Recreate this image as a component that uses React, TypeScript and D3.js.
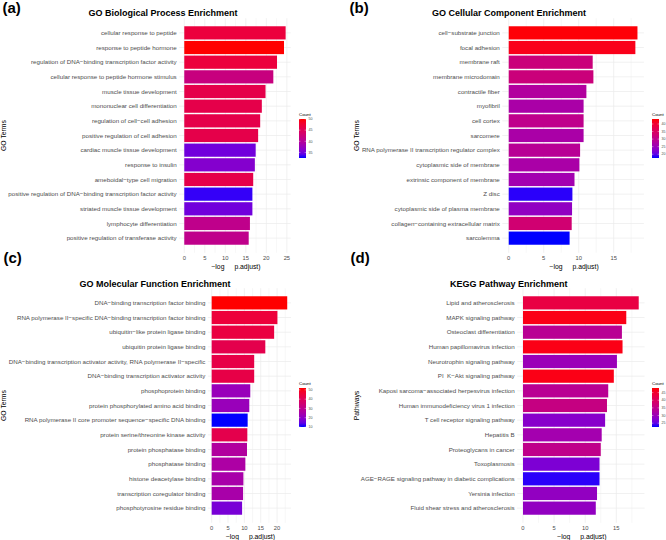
import React from "react";
import * as d3 from "d3";

const bpTerms = [
  "cellular response to peptide",
  "response to peptide hormone",
  "regulation of DNA−binding transcription factor activity",
  "cellular response to peptide hormone stimulus",
  "muscle tissue development",
  "mononuclear cell differentiation",
  "regulation of cell−cell adhesion",
  "positive regulation of cell adhesion",
  "cardiac muscle tissue development",
  "response to insulin",
  "ameboidal−type cell migration",
  "positive regulation of DNA−binding transcription factor activity",
  "striated muscle tissue development",
  "lymphocyte differentiation",
  "positive regulation of transferase activity",
];
const bpValues = [24.7, 24.3, 22.6, 21.7, 19.8, 18.9, 18.5, 18.0, 17.4, 17.2, 16.8, 16.6, 16.6, 16.0, 15.7];
const bpCounts = [47, 50, 47, 42, 46, 46, 46, 46, 35, 36, 46, 33, 35, 41, 41];

const ccTerms = [
  "cell−substrate junction",
  "focal adhesion",
  "membrane raft",
  "membrane microdomain",
  "contractile fiber",
  "myofibril",
  "cell cortex",
  "sarcomere",
  "RNA polymerase II transcription regulator complex",
  "cytoplasmic side of membrane",
  "extrinsic component of membrane",
  "Z disc",
  "cytoplasmic side of plasma membrane",
  "collagen−containing extracellular matrix",
  "sarcolemma",
];
const ccValues = [18.4, 18.1, 12.0, 12.1, 11.1, 10.7, 10.7, 10.7, 10.2, 10.1, 9.4, 9.1, 9.05, 9.0, 8.7];
const ccCounts = [43, 42, 32, 32, 28, 27, 30, 27, 29, 27, 26, 18, 24, 33, 17];

const mfTerms = [
  "DNA−binding transcription factor binding",
  "RNA polymerase II−specific DNA−binding transcription factor binding",
  "ubiquitin−like protein ligase binding",
  "ubiquitin protein ligase binding",
  "DNA−binding transcription activator activity, RNA polymerase II−specific",
  "DNA−binding transcription activator activity",
  "phosphoprotein binding",
  "protein phosphorylated amino acid binding",
  "RNA polymerase II core promoter sequence−specific DNA binding",
  "protein serine/threonine kinase activity",
  "protein phosphatase binding",
  "phosphatase binding",
  "histone deacetylase binding",
  "transcription coregulator binding",
  "phosphotyrosine residue binding",
];
const mfValues = [23.1, 20.1, 19.1, 16.4, 13.0, 13.0, 11.8, 11.5, 11.0, 10.9, 10.8, 10.3, 9.7, 9.6, 9.3];
const mfCounts = [52, 45, 44, 42, 43, 43, 22, 22, 10, 42, 27, 26, 25, 25, 17];

const keggTerms = [
  "Lipid and atherosclerosis",
  "MAPK signaling pathway",
  "Osteoclast differentiation",
  "Human papillomavirus infection",
  "Neurotrophin signaling pathway",
  "PI  K−Akt signaling pathway",
  "Kaposi sarcoma−associated herpesvirus infection",
  "Human immunodeficiency virus 1 infection",
  "T cell receptor signaling pathway",
  "Hepatitis B",
  "Proteoglycans in cancer",
  "Toxoplasmosis",
  "AGE−RAGE signaling pathway in diabetic complications",
  "Yersinia infection",
  "Fluid shear stress and atherosclerosis",
];
const keggValues = [18.6, 16.6, 15.9, 16.0, 15.1, 14.6, 13.7, 13.5, 13.2, 12.65, 12.5, 12.3, 12.3, 11.9, 11.7];
const keggCounts = [43, 47, 34, 47, 30, 47, 34, 36, 28, 31, 35, 27, 23, 29, 29];

const bpTicks = [0, 5, 10, 15, 20, 25];
const ccTicks = [0, 5, 10, 15];
const mfTicks = [0, 5, 10, 15, 20];
const keggTicks = [0, 5, 10, 15];

const bpLegend = [50, 45, 40, 35];
const ccLegend = [40, 35, 30, 25, 20];
const mfLegend = [50, 40, 30, 20, 10];
const keggLegend = [45, 40, 35, 30, 25];

const FONT = "'Liberation Sans', Arial, Helvetica, sans-serif";

type PanelProps = {
  id: string;
  letter: string;
  letterX: number;
  letterY: number;
  title: string;
  titleX: number;
  titleY: number;
  yTitle: string;
  yTitleX: number;
  terms: string[];
  values: number[];
  counts: number[];
  ticks: number[];
  legendTicks: number[];
  countDomain: [number, number];
  x0: number;
  x1: number;
  y0: number;
  y1: number;
  legendX: number;
  legendY: number;
};

function Panel(p: PanelProps) {
  const maxV = d3.max(p.values) as number;
  const x = d3.scaleLinear().domain([-0.05 * maxV, 1.05 * maxV]).range([p.x0, p.x1]);
  const y = d3.scaleBand<string>().domain(p.terms).range([p.y0, p.y1]).paddingInner(0.1).paddingOuter(0.55);
  const color = d3
    .scaleLinear<string>()
    .domain(p.countDomain)
    .range(["blue", "red"])
    .interpolate(d3.interpolateLab)
    .clamp(true);
  const minorTicks = p.ticks.map((t) => t + 2.5).concat([p.ticks[0] - 2.5]).filter((t) => x(t) >= p.x0 && x(t) <= p.x1);
  const barH = 39;
  const ly = d3.scaleLinear().domain(p.countDomain).range([p.legendY + barH, p.legendY]);
  const stops = d3.range(0, 1.0001, 0.1);
  const axisY = p.y1;
  return (
    <g>
      <defs>
        <linearGradient id={"grad-" + p.id} x1="0" y1="1" x2="0" y2="0">
          {stops.map((s) => (
            <stop key={s} offset={s} stopColor={color(p.countDomain[0] + s * (p.countDomain[1] - p.countDomain[0]))} />
          ))}
        </linearGradient>
      </defs>
      <text x={p.letterX} y={p.letterY} fontFamily={FONT} fontWeight="bold" fontSize={15} fill="#000">
        {p.letter}
      </text>
      <text x={p.titleX} y={p.titleY} fontFamily={FONT} fontWeight="bold" fontSize={9} textAnchor="middle" fill="#000">
        {p.title}
      </text>
      {minorTicks.map((t) => (
        <line key={"mi" + t} x1={x(t)} x2={x(t)} y1={p.y0} y2={p.y1} stroke="#EBEBEB" strokeWidth={0.4} />
      ))}
      {p.ticks.map((t) => (
        <line key={"ma" + t} x1={x(t)} x2={x(t)} y1={p.y0} y2={p.y1} stroke="#EBEBEB" strokeWidth={0.7} />
      ))}
      {p.terms.map((t) => (
        <line
          key={"hg" + t}
          x1={p.x0}
          x2={p.x1}
          y1={(y(t) as number) + y.bandwidth() / 2}
          y2={(y(t) as number) + y.bandwidth() / 2}
          stroke="#EBEBEB"
          strokeWidth={0.7}
        />
      ))}
      {p.terms.map((t, i) => (
        <rect
          key={"b" + t}
          x={x(0)}
          y={y(t) as number}
          width={x(p.values[i]) - x(0)}
          height={y.bandwidth()}
          fill={color(p.counts[i])}
        />
      ))}
      {p.terms.map((t) => (
        <text
          key={"l" + t}
          x={p.x0 - 2.5}
          y={(y(t) as number) + y.bandwidth() / 2}
          dy="0.35em"
          textAnchor="end"
          fontFamily={FONT}
          fontSize={6.2}
          fill="#4D4D4D"
          style={{ whiteSpace: "pre" }}
        >
          {t}
        </text>
      ))}
      {p.ticks.map((t) => (
        <text
          key={"t" + t}
          x={x(t)}
          y={axisY + 6.8}
          textAnchor="middle"
          fontFamily={FONT}
          fontSize={5.8}
          fill="#4D4D4D"
        >
          {t}
        </text>
      ))}
      <text
        x={(p.x0 + p.x1) / 2 + 1}
        y={axisY + 15.7}
        textAnchor="middle"
        fontFamily={FONT}
        fontSize={6.8}
        fill="#000"
      >
        <tspan>−log</tspan>
        <tspan dx={10}>p.adjust)</tspan>
      </text>
      <text
        transform={`translate(${p.yTitleX},${(p.y0 + p.y1) / 2}) rotate(-90)`}
        textAnchor="middle"
        fontFamily={FONT}
        fontSize={6.8}
        fill="#000"
      >
        {p.yTitle}
      </text>
      <text x={p.legendX} y={p.legendY - 3} fontFamily={FONT} fontSize={4.4} fill="#000">
        Count
      </text>
      <rect x={p.legendX} y={p.legendY} width={7} height={barH} fill={`url(#grad-${p.id})`} />
      {p.legendTicks.map((t) => (
        <g key={"lg" + t}>
          <line x1={p.legendX} x2={p.legendX + 1.4} y1={ly(t)} y2={ly(t)} stroke="#fff" strokeWidth={0.4} />
          <line x1={p.legendX + 5.6} x2={p.legendX + 7} y1={ly(t)} y2={ly(t)} stroke="#fff" strokeWidth={0.4} />
          <text x={p.legendX + 9.5} y={ly(t)} dy="0.35em" fontFamily={FONT} fontSize={3.6} fill="#4D4D4D">
            {t}
          </text>
        </g>
      ))}
    </g>
  );
}

export default function App() {
  return (
    <svg width={666} height={540} style={{ position: "absolute", left: 0, top: 0, background: "#fff" }}>
      <rect width={666} height={540} fill="#fff" />
      <Panel
        id="a"
        letter="(a)"
        letterX={2.5}
        letterY={12.5}
        title="GO Biological Process Enrichment"
        titleX={163}
        titleY={16}
        yTitle="GO Terms"
        yTitleX={6}
        terms={bpTerms}
        values={bpValues}
        counts={bpCounts}
        ticks={bpTicks}
        legendTicks={bpLegend}
        countDomain={[32.5, 50]}
        x0={179.2}
        x1={290.7}
        y0={18.2}
        y1={252.8}
        legendX={299}
        legendY={119}
      />
      <Panel
        id="b"
        letter="(b)"
        letterX={349.5}
        letterY={12.5}
        title="GO Cellular Component Enrichment"
        titleX={509}
        titleY={16}
        yTitle="GO Terms"
        yTitleX={359}
        terms={ccTerms}
        values={ccValues}
        counts={ccCounts}
        ticks={ccTicks}
        legendTicks={ccLegend}
        countDomain={[17.5, 43.3]}
        x0={502.3}
        x1={643.9}
        y0={18.2}
        y1={252.8}
        legendX={652}
        legendY={119}
      />
      <Panel
        id="c"
        letter="(c)"
        letterX={3.5}
        letterY={263}
        title="GO Molecular Function Enrichment"
        titleX={155}
        titleY={287}
        yTitle="GO Terms"
        yTitleX={6}
        terms={mfTerms}
        values={mfValues}
        counts={mfCounts}
        ticks={mfTicks}
        legendTicks={mfLegend}
        countDomain={[10, 52]}
        x0={207.9}
        x1={291}
        y0={288.2}
        y1={522.8}
        legendX={299}
        legendY={388}
      />
      <Panel
        id="d"
        letter="(d)"
        letterX={350.5}
        letterY={263}
        title="KEGG Pathway Enrichment"
        titleX={508.7}
        titleY={287}
        yTitle="Pathways"
        yTitleX={359}
        terms={keggTerms}
        values={keggValues}
        counts={keggCounts}
        ticks={keggTicks}
        legendTicks={keggLegend}
        countDomain={[22.5, 48]}
        x0={517.2}
        x1={644.5}
        y0={288.2}
        y1={522.8}
        legendX={652}
        legendY={388}
      />
    </svg>
  );
}
